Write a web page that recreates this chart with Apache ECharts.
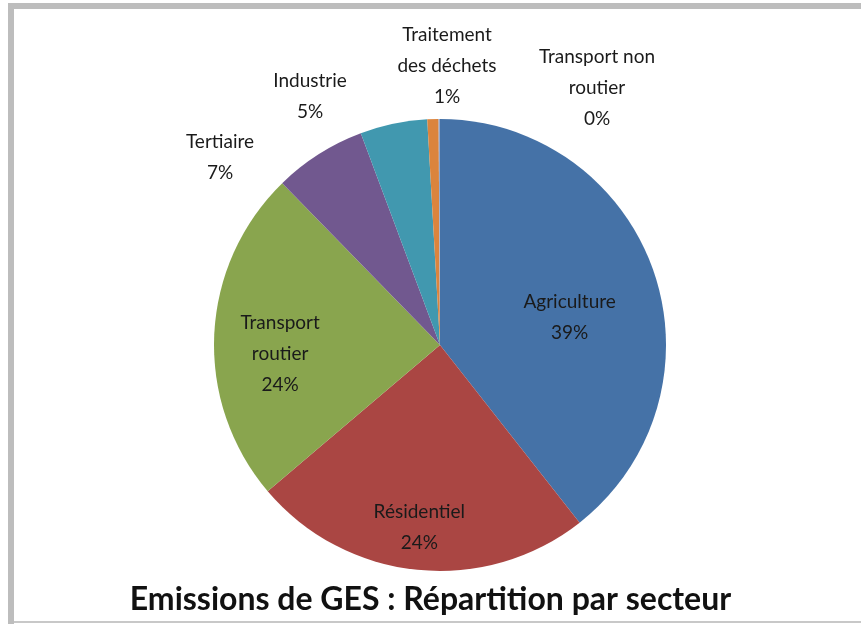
<!DOCTYPE html>
<html>
<head>
<meta charset="utf-8">
<script src="https://cdn.jsdelivr.net/npm/echarts@6/dist/echarts.min.js"></script>
<style>
  html, body { margin: 0; padding: 0; background: #fff; }
  #piechart { width: 861px; height: 624px; }
</style>
</head>
<body>
<div id="piechart"></div>
<script>
  // secteurs, dans le sens horaire depuis midi
  var sectorNames = ['Agriculture', 'Résidentiel', 'Transport\nroutier', 'Tertiaire', 'Industrie', 'Traitement\ndes déchets', 'Transport non\nroutier'];
  var sectorValues = [39.4, 24.4, 23.9, 6.6, 4.8, 0.8, 0.1];
  var pieColor = ['#4572A7', '#AA4643', '#89A54E', '#71588F', '#4198AF', '#DB843D', '#93A9CF'];
  var titleText = 'Emissions de GES : Répartition par secteur';

  // petits secteurs : étiquette à l'extérieur
  var outsideIdx = [3, 4, 5, 6];
  // décalages des étiquettes intérieures
  var innerShift = { 0: [20, 10], 1: [-9, 67], 2: [-44, 14] };
  var outerPos = { 3: [220, 157], 4: [310, 96], 5: [447, 66], 6: [597, 88] };

  var charts = echarts.init(document.getElementById('piechart'));

  var pieData = sectorNames.map(function (name, i) {
    var item = { name: name, value: sectorValues[i] };
    if (outsideIdx.indexOf(i) >= 0) {
      item.label = { position: 'outside' };
      item.labelLine = { show: false };
    }
    return item;
  });

  var option = {
    animation: false,
    color: pieColor,
    title: {
      text: titleText,
      left: 'center',
      top: 579,
      textStyle: { fontFamily: 'Lato', fontSize: 32, fontWeight: 'bold', color: '#111' },
    },
    graphic: [
      { type: 'rect', shape: { x: 8, y: 3, width: 853, height: 6 }, style: { fill: '#bdbdbd' } },
      { type: 'rect', shape: { x: 8, y: 3, width: 6, height: 621 }, style: { fill: '#bdbdbd' } },
      { type: 'rect', shape: { x: 14, y: 621, width: 847, height: 2 }, style: { fill: '#c8c8c8' } },
    ],
    series: [
      {
        type: 'pie',
        radius: 226,
        center: [440, 345],
        startAngle: 90,
        clockwise: true,
        avoidLabelOverlap: false,
        itemStyle: { borderWidth: 0 },
        label: {
          show: true,
          position: 'inner',
          formatter: function (p) { return p.name + '\n' + Math.round(p.value) + '%'; },
          fontFamily: 'Lato',
          fontSize: 19,
          lineHeight: 31,
          color: '#1a1a1a',
        },
        labelLine: { show: false },
        emphasis: { disabled: true },
        labelLayout: function (p) {
          var i = p.dataIndex;
          if (outerPos[i]) {
            return { x: outerPos[i][0], y: outerPos[i][1], align: 'center', verticalAlign: 'middle' };
          }
          return { dx: innerShift[i][0], dy: innerShift[i][1] };
        },
        data: pieData,
      },
    ],
  };

  charts.setOption(option);
</script>
</body>
</html>
